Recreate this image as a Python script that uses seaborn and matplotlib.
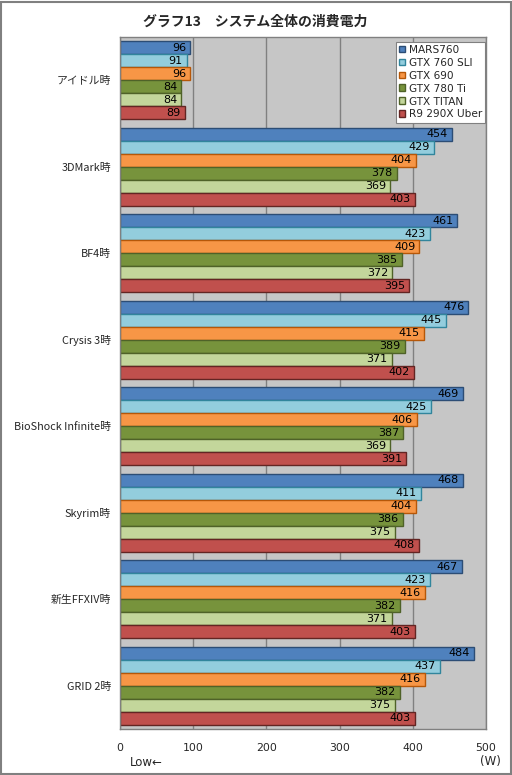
import matplotlib
matplotlib.use("Agg")
import matplotlib.pyplot as plt
import seaborn as sns
import pandas as pd
from matplotlib.patches import Rectangle

categories = ["アイドル時", "3DMark時", "BF4時", "Crysis 3時", "BioShock Infinite時",
              "Skyrim時", "新生FFXIV時", "GRID 2時"]
series = ["MARS760", "GTX 760 SLI", "GTX 690", "GTX 780 Ti", "GTX TITAN", "R9 290X Uber"]
mars760 = [96, 454, 461, 476, 469, 468, 467, 484]
gtx760sli = [91, 429, 423, 445, 425, 411, 423, 437]
gtx690 = [96, 404, 409, 415, 406, 404, 416, 416]
gtx780ti = [84, 378, 385, 389, 387, 386, 382, 382]
gtxtitan = [84, 369, 372, 371, 369, 375, 371, 375]
r9290x = [89, 403, 395, 402, 391, 408, 403, 403]
xticks = [0, 100, 200, 300, 400, 500]

face_colors = ["#4F81BD", "#93CDDD", "#F79646", "#77933C", "#C3D69B", "#C0504D"]
edge_colors = ["#2C4D75", "#31859C", "#B65708", "#4F6228", "#4F6228", "#632523"]

values = [mars760, gtx760sli, gtx690, gtx780ti, gtxtitan, r9290x]
rows = []
for s, vals in zip(series, values):
    for c, v in zip(categories, vals):
        rows.append({"cat": c, "series": s, "value": v})
df = pd.DataFrame(rows)

sns.set_style("white")
plt.rcParams['font.family'] = ['Noto Sans CJK JP', 'DejaVu Sans']
latin = ['DejaVu Sans', 'Noto Sans CJK JP']

fig = plt.figure(figsize=(5.12, 7.75), dpi=100)
ax = fig.add_axes([120/512, 1 - 729/775, (486-120)/512, (729-37)/775])
ax.set_facecolor("#C6C6C6")

sns.barplot(data=df, y="cat", x="value", hue="series", order=categories,
            hue_order=series, palette=face_colors, orient="h", width=0.9,
            ax=ax, saturation=1, linewidth=1)

for cont, ec in zip(ax.containers, edge_colors):
    for p in cont:
        p.set_edgecolor(ec)
        p.set_linewidth(1)
        w = p.get_width()
        y = p.get_y() + p.get_height() / 2
        ax.annotate(f"{int(round(w))}", xy=(w, y), xytext=(-3, 0),
                    textcoords="offset points", ha="right", va="center",
                    fontsize=8, color="#000000", family=latin)

ax.set_xlim(0, 500)
ax.set_xticks(xticks)
ax.set_xticklabels([str(t) for t in xticks], fontsize=7.8, family=latin)
ax.tick_params(axis="x", length=0, pad=10)
ax.tick_params(axis="y", length=0, pad=6.5, labelsize=7.8)
ax.set_xlabel("")
ax.set_ylabel("")
ax.grid(axis="x", color="#808080", linewidth=1)
ax.set_axisbelow(True)
for sp in ax.spines.values():
    sp.set_color("#808080")
    sp.set_linewidth(1)

leg = ax.legend(loc="upper right", bbox_to_anchor=(1.0, 0.995),
                prop={"family": latin, "size": 7.6},
                frameon=True, fancybox=False, framealpha=1, edgecolor="#808080",
                handlelength=0.6, handleheight=0.6, handletextpad=0.3,
                labelspacing=0.28, borderpad=0.3, borderaxespad=0.1)
leg.get_frame().set_linewidth(0.8)
for h, ec in zip(leg.legend_handles, edge_colors):
    h.set_edgecolor(ec)

fig.text(255/512, 1 - 22/775, "グラフ13　システム全体の消費電力", ha="center",
         va="center", fontsize=10, fontweight="bold")
fig.text(130/512, 1 - 763/775, "Low←", ha="left", va="center", fontsize=8.5, family=latin)
fig.text(490/512, 1 - 762/775, "(W)", ha="center", va="center", fontsize=8.5, family=latin)

fig.patches.append(Rectangle((0.001, 0.001), 0.997, 0.997, transform=fig.transFigure,
                             fill=False, edgecolor="#808080", linewidth=1.5))

fig.savefig("out.png", dpi=100)
